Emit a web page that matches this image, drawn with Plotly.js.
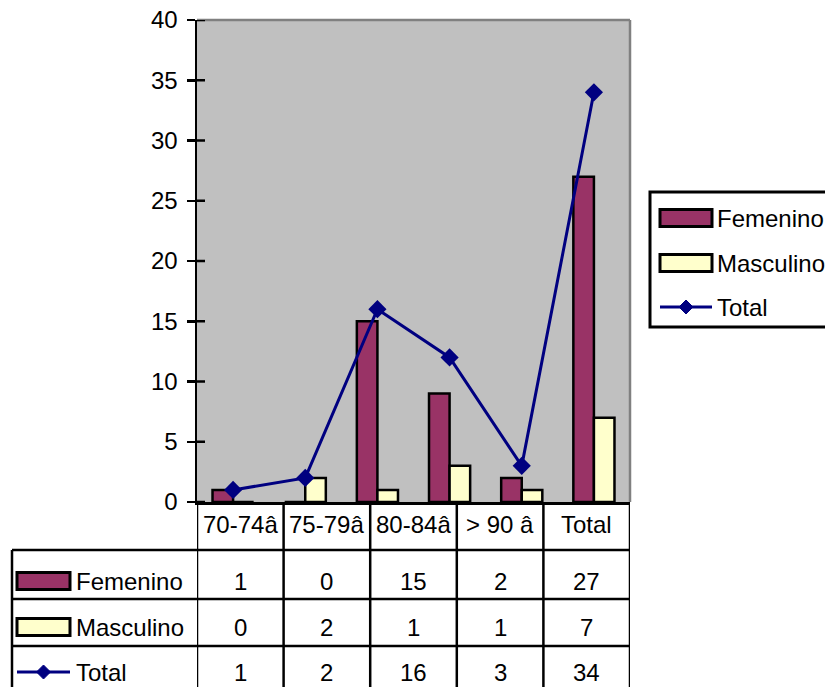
<!DOCTYPE html>
<html>
<head>
<meta charset="utf-8">
<script src="https://cdn.plot.ly/plotly-3.0.1.min.js"></script>
<style>html,body{margin:0;padding:0;background:#fff;}#chart{width:825px;height:687px;}</style>
</head>
<body>
<div id="chart"></div>
<script>
// ---- data ----
const categories = ["70-74â", "75-79â", "80-84â", "85-89â", "> 90 â", "Total"];
const femenino = [1, 0, 15, 9, 2, 27];
const masculino = [0, 2, 1, 3, 1, 7];
const total = [1, 2, 16, 12, 3, 34];
const seriesNames = ["Femenino", "Masculino", "Total"];
const tableColumns = ["70-74â", "75-79â", "80-84â", "> 90 â", "Total"];
const tableFemenino = [1, 0, 15, 2, 27];
const tableMasculino = [0, 2, 1, 1, 7];
const tableTotal = [1, 2, 16, 3, 34];
const yTicks = [0, 5, 10, 15, 20, 25, 30, 35, 40];

// ---- styles ----
const FEM = "#993366", MASC = "#FFFFCC", TOT = "#000080";
const FONT = {family: "Liberation Sans, Arial, sans-serif", size: 24, color: "#000"};
const W = 825, H = 687, L = 197, R = 195, T = 20, B = 185;
const PW = W - L - R, PH = H - T - B;
const px = x => (x - L) / PW;          // pixel -> paper x
const py = y => (H - B - y) / PH;      // pixel -> paper y

const traces = [
  {type: "bar", name: seriesNames[0], x: categories, y: femenino,
   marker: {color: FEM, line: {color: "#000", width: 2.5}}, hoverinfo: "x+y+name"},
  {type: "bar", name: seriesNames[1], x: categories, y: masculino,
   marker: {color: MASC, line: {color: "#000", width: 2.5}}, hoverinfo: "x+y+name"},
  {type: "scatter", mode: "lines+markers", name: seriesNames[2], x: categories, y: total,
   line: {color: TOT, width: 3}, marker: {symbol: "diamond", size: 14, color: TOT}}
];

const shapes = [];
const annotations = [];
const line = (x0, y0, x1, y1, xref, yref, color, width) =>
  shapes.push({type: "line", x0, y0, x1, y1, xref: xref || "paper", yref: yref || "paper",
               line: {color: color || "#000", width: width || 2}, layer: "above"});

// plot area grey border (top & right)
line(0, 1, 1, 1, "paper", "paper", "#808080", 2.5);
line(1, 0, 1, 1, "paper", "paper", "#808080", 2.5);
// inner half of crossing y ticks
yTicks.forEach(v => line(0, v, 8 / PW, v, "paper", "y", "#000", 2.5));

// ---- data table ----
const tblBottom = py(700);
const rowLines = [550, 599, 646];
const rowCenters = [581, 627, 672];
const labelLeft = px(12);
rowLines.forEach(y => line(labelLeft, py(y), 1, py(y), "paper", "paper", "#000", 2.5));
line(labelLeft, py(550), labelLeft, tblBottom, "paper", "paper", "#000", 2.5);
for (let i = 0; i <= tableColumns.length; i++) line(i - 0.5, 0, i - 0.5, tblBottom, "x2", "paper", "#000", 2.5);

tableColumns.forEach((c, i) => annotations.push({x: i, xref: "x2", y: py(524), yref: "paper",
  text: c, showarrow: false, font: FONT, xanchor: "center", yanchor: "middle"}));
[tableFemenino, tableMasculino, tableTotal].forEach((arr, r) => arr.forEach((v, i) =>
  annotations.push({x: i, xref: "x2", y: py(rowCenters[r]), yref: "paper", text: String(v),
    showarrow: false, font: FONT, xanchor: "center", yanchor: "middle"})));

// legend keys (table and side legend)
function keys(x0, x1, textX, centers) {
  const h = 8.5;
  shapes.push({type: "rect", xref: "paper", yref: "paper", x0: px(x0), x1: px(x1),
    y0: py(centers[0] - h), y1: py(centers[0] + h), fillcolor: FEM, line: {color: "#000", width: 3}, layer: "above"});
  shapes.push({type: "rect", xref: "paper", yref: "paper", x0: px(x0), x1: px(x1),
    y0: py(centers[1] - h), y1: py(centers[1] + h), fillcolor: MASC, line: {color: "#000", width: 3}, layer: "above"});
  line(px(x0), py(centers[2]), px(x1), py(centers[2]), "paper", "paper", TOT, 3);
  const cx = (x0 + x1) / 2, cy = centers[2], d = 7;
  shapes.push({type: "path", xref: "paper", yref: "paper",
    path: `M${px(cx - d)},${py(cy)} L${px(cx)},${py(cy - d)} L${px(cx + d)},${py(cy)} L${px(cx)},${py(cy + d)} Z`,
    fillcolor: TOT, line: {color: TOT, width: 1}, layer: "above"});
  seriesNames.forEach((n, i) => annotations.push({x: px(textX), xref: "paper", y: py(centers[i]), yref: "paper",
    text: n, showarrow: false, font: FONT, xanchor: "left", yanchor: "middle"}));
}
keys(17, 70, 74, rowCenters);

// side legend box
shapes.push({type: "rect", xref: "paper", yref: "paper", x0: px(650), x1: px(900), y0: py(327), y1: py(192),
  fillcolor: "rgba(255,255,255,0)", line: {color: "#000", width: 3}, layer: "above"});
keys(660, 712, 715, [218, 263, 307]);

const layout = {
  width: W, height: H,
  margin: {l: L, r: R, t: T, b: B, pad: 0},
  paper_bgcolor: "#fff", plot_bgcolor: "#C0C0C0",
  showlegend: false,
  barmode: "group", bargap: 0.43, bargroupgap: 0,
  font: FONT,
  xaxis: {type: "category", range: [-0.5, 5.5], showticklabels: false, ticks: "",
          showline: true, linecolor: "#000", linewidth: 2.5, showgrid: false, zeroline: false, fixedrange: true},
  xaxis2: {overlaying: "x", anchor: "y", range: [-0.5, tableColumns.length - 0.5], visible: false, fixedrange: true},
  yaxis: {range: [0, 40], tickvals: yTicks, ticks: "outside", ticklen: 8, tickwidth: 2.5, tickcolor: "#000",
          showline: true, linecolor: "#000", linewidth: 2.5, showgrid: false, zeroline: false,
          tickfont: FONT, ticklabelstandoff: 4, fixedrange: true},
  shapes, annotations
};

Plotly.newPlot("chart", traces, layout, {displayModeBar: false, staticPlot: true});
</script>
</body>
</html>
